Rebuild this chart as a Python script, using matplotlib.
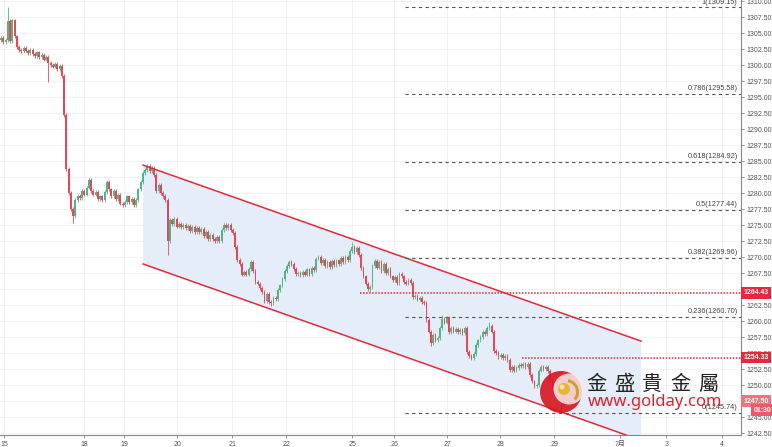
import numpy as np
import matplotlib
matplotlib.use("Agg")
import matplotlib.pyplot as plt
from matplotlib.patches import Circle, Wedge, Polygon
import matplotlib.transforms as mtransforms

# hourly XAU/USD candles (open of first bar, then closes)
first_open = 1304.0
closes = [
    1304.3, 1303.6, 1304.0, 1306.9, 1303.8, 1307.0, 1304.5, 1302.8, 1302.4,
    1302.2, 1302.7, 1302.3, 1301.9, 1302.4, 1301.8, 1301.5, 1302.0, 1301.3,
    1301.6, 1300.9, 1301.3, 1300.4, 1300.1, 1299.8, 1300.2, 1299.4, 1299.9, 1298.3,
    1292.2, 1283.8, 1280.0, 1277.6, 1276.4,
    1278.9, 1279.6, 1279.3, 1280.3, 1279.8, 1280.9, 1282.1, 1280.4, 1279.8, 1280.2, 1279.1, 1279.5, 1278.9,
    1280.2, 1281.8, 1280.6, 1279.6, 1280.3, 1279.1, 1279.8, 1278.4, 1278.1, 1278.7, 1279.5, 1278.6, 1279.1, 1278.2, 1278.9,
    1280.6, 1281.8, 1283.2, 1283.6, 1284.2, 1283.5, 1284.0, 1282.8, 1280.4, 1281.3, 1280.0, 1279.6, 1279.0,
    1272.6, 1275.8, 1275.2, 1276.0, 1274.8, 1275.2, 1274.7, 1275.0, 1274.5, 1274.9, 1274.1, 1274.7,
    1273.9, 1274.6, 1274.0, 1274.4, 1273.3, 1273.9, 1272.9, 1273.5, 1272.8, 1272.6, 1273.2, 1272.5,
    1274.2, 1275.1, 1274.5, 1275.0, 1274.3, 1273.8, 1271.6, 1269.6, 1269.0, 1267.3, 1267.7, 1267.3,
    1268.2, 1269.3, 1267.9, 1266.2, 1265.9, 1265.2, 1264.6, 1263.1, 1264.3, 1263.0, 1262.9, 1263.6, 1263.5,
    1264.9, 1265.6, 1266.6, 1267.8, 1268.6, 1269.2, 1269.0, 1268.2, 1267.4, 1267.6, 1267.2, 1267.7,
    1267.3, 1268.1, 1267.4, 1268.3, 1268.0, 1269.8, 1270.0, 1269.1, 1269.6, 1268.7, 1269.2, 1268.5,
    1269.4, 1268.8, 1269.5, 1269.0, 1269.9, 1269.3, 1270.0, 1269.6, 1271.0, 1271.6, 1270.8, 1271.4, 1270.4,
    1268.3, 1267.0, 1265.9, 1265.0, 1265.3, 1268.6, 1269.4, 1268.4, 1269.3, 1267.9, 1269.0, 1267.6,
    1268.2, 1267.0, 1266.5, 1266.9, 1266.0, 1267.4, 1267.0, 1266.2, 1265.9, 1266.4, 1266.0, 1263.8,
    1264.0, 1263.4, 1263.6, 1263.0, 1262.8,
    1260.2, 1258.4, 1256.6, 1257.8, 1257.0, 1257.4, 1259.0, 1260.4, 1259.8, 1260.6, 1258.3, 1258.9,
    1258.4, 1258.8, 1258.3, 1258.7, 1258.2, 1259.0, 1255.2, 1254.6, 1254.3, 1254.9, 1256.3, 1257.0,
    1257.6, 1258.4, 1258.0, 1258.9, 1259.3, 1258.4,
    1255.4, 1255.0, 1254.4, 1254.8, 1254.3, 1254.6, 1254.0, 1252.4, 1252.8, 1252.3, 1252.7, 1253.2,
    1253.0, 1253.4, 1252.9, 1253.3, 1251.6, 1250.6, 1249.9, 1250.1, 1252.3, 1252.8, 1252.6, 1252.9,
    1252.2, 1250.8, 1249.8, 1250.3, 1249.2, 1248.1, 1246.9, 1247.8, 1248.4, 1248.0, 1248.6, 1247.9, 1247.5,
]
# notable wick extremes (bar index -> price)
wick_high = {3: 1309.15, 65: 1284.6, 156: 1272.4, 196: 1261.0, 217: 1259.9}
wick_low = {21: 1297.4, 32: 1275.4, 74: 1270.3, 120: 1262.4, 164: 1264.6, 191: 1256.2, 249: 1245.74}

# x-axis day labels and the bar they sit on
day_labels = ["15", "18", "19", "20", "21", "22", "25", "26", "27", "28", "29", "7月", "3", "4"]
day_bars = [1.3, 36.9, 54.7, 78.2, 102.7, 126.7, 156.0, 174.7, 198.2, 221.8, 245.8, 275.1, 295.6, 320.4]

# fibonacci retracement
fib_ratios = ["1", "0.786", "0.618", "0.5", "0.382", "0.236", "0"]
fib_prices = [1309.15, 1295.58, 1284.92, 1277.44, 1269.96, 1260.70, 1245.74]

# descending channel (bar, price)
chan_bars = [63.1, 284.4]
chan_upper = [1284.4, 1256.9]
chan_lower = [1268.95, 1241.4]

# horizontal levels
red_levels = [1264.43, 1254.33]
red_starts = [159.6, 231.6]

UP = "#4fb584"
DOWN = "#eb4658"
RED = "#e8283a"

fig = plt.figure(figsize=(7.72, 4.47), dpi=100)
ax = fig.add_axes([0, 12 / 447, 741 / 772, 435 / 447])
ax.set_facecolor("white")

closes = np.array(closes)
opens = np.concatenate([[first_open], closes[:-1]])
xs = np.arange(len(closes))
highs = np.maximum(opens, closes) + 0.3
lows = np.minimum(opens, closes) - 0.3
for k, v in wick_high.items():
    highs[k] = v
for k, v in wick_low.items():
    lows[k] = v

colors = np.where(closes >= opens, UP, DOWN)
ax.vlines(xs, lows, highs, colors=colors, lw=0.6, zorder=3)
body = np.maximum(np.abs(closes - opens), 0.15)
ax.bar(xs, body, bottom=np.minimum(opens, closes), width=0.8, color=colors, lw=0, zorder=4)

# channel
cx = np.array(chan_bars)
poly = Polygon([(cx[0], chan_upper[0]), (cx[1], chan_upper[1]),
                (cx[1], chan_lower[1]), (cx[0], chan_lower[0])],
               closed=True, fc="#e4edf8", ec="none", zorder=1)
ax.add_patch(poly)
ax.plot(cx, chan_upper, color=RED, lw=1.1, zorder=5)
ax.plot(cx, chan_lower, color=RED, lw=1.1, zorder=5)

xmax = 328.8
# fib levels
for r, p in zip(fib_ratios, fib_prices):
    ax.plot([179.5, xmax], [p, p], color="#555555", lw=0.8, ls=(0, (3, 3)), zorder=5)
    dy = 0.1 if r == "1" else 0.25
    ax.text(327.3, p + dy, f"{r}({p:.2f})", ha="right", va="bottom",
            fontsize=5.3, family="Liberation Sans", color="#444444", zorder=6)

for p, s in zip(red_levels, red_starts):
    ax.plot([s, xmax], [p, p], color=RED, lw=1.1, ls=(0, (1, 1)), zorder=5)

ax.set_xlim(-0.5, xmax)
ax.set_ylim(1242.23, 1310.2)
ax.set_xticks(day_bars)
ax.set_xticklabels(day_labels, fontsize=5, color="#555555", family=["Liberation Sans", "Noto Sans CJK SC"])
yt = np.arange(1242.5, 1310.01, 2.5)
ax.set_yticks(yt)
ax.set_yticklabels([f"{v:.2f}" for v in yt], fontsize=5, color="#555555", family="Liberation Sans")
ax.yaxis.tick_right()
ax.tick_params(axis="both", length=2.5, width=0.6, color="#888888", pad=1.5)
ax.grid(True, color="#f0f0f0", lw=0.6, zorder=0)
ax.set_axisbelow(True)
for side in ["top", "left"]:
    ax.spines[side].set_visible(False)
for side in ["right", "bottom"]:
    ax.spines[side].set_color("#888888")
    ax.spines[side].set_linewidth(0.8)

# price boxes on the axis
trans = mtransforms.blended_transform_factory(ax.transAxes, ax.transData)
for txt, p, fc in [("1264.43", 1264.43, RED), ("1254.33", 1254.33, RED), ("1247.50", 1247.50, "#f07480")]:
    ax.text(1.003, p, txt, transform=trans, ha="left", va="center", fontsize=5,
            family="Liberation Sans", color="white", fontweight="bold", clip_on=False, zorder=10,
            bbox=dict(boxstyle="square,pad=0.35", fc=fc, ec="none"))
ax.text(1.017, 1246.1, "01:30", transform=trans, ha="left", va="center", fontsize=5,
        family="Liberation Sans", color="white", fontweight="bold", clip_on=False, zorder=10,
        bbox=dict(boxstyle="square,pad=0.35", fc="#ec5c68", ec="none"))

# watermark logo (pixel coordinates)
ov = fig.add_axes([0, 0, 1, 1], zorder=10)
ov.set_xlim(0, 772)
ov.set_ylim(447, 0)
ov.set_aspect("equal")
ov.axis("off")
ov.patch.set_alpha(0)
ov.add_patch(Circle((561, 392), 21, fc="#d8141e", ec="none", alpha=0.9))
ov.add_patch(Circle((569, 389), 15.5, fc="#fbeaea", ec="none", alpha=0.85))
ov.add_patch(Wedge((566, 392), 13, 280, 40, width=3, fc="#c9a032", ec="none"))
ov.add_patch(Circle((564, 389), 6, fc="#e0b93a", ec="none"))
ov.add_patch(Circle((562, 387), 2.5, fc="#f6e29a", ec="none"))
for k, ch in enumerate("金盛貴金屬"):
    ov.text(596 + 28 * k, 384, ch, ha="center", va="center", fontsize=14.5,
            family="Noto Sans CJK TC", color="#222222", fontweight="medium")
ov.text(655, 402, "www.golday.com", ha="center", va="center", fontsize=12,
        family="Noto Sans", color="#e0202a")

fig.savefig("out.png", dpi=100)
